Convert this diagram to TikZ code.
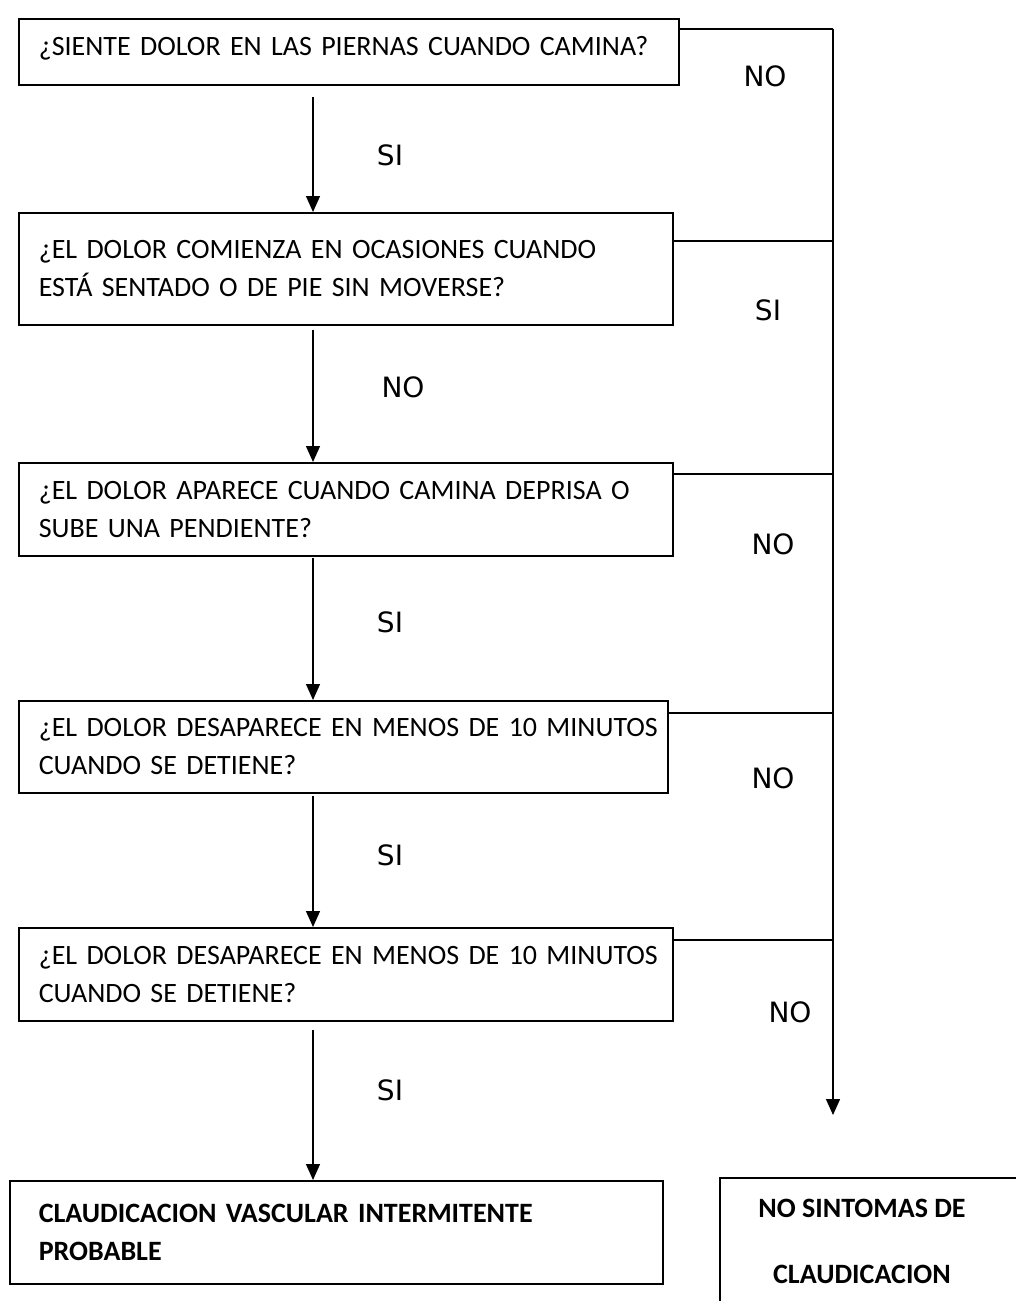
\documentclass[tikz,border=0pt]{standalone}
\usepackage{fontspec}
\setmainfont{Carlito}
\newfontfamily\answerfont{DejaVu Sans}
\usetikzlibrary{arrows.meta}
\tikzset{
    qbox/.style={draw, line width=1.6pt, anchor=north west, inner xsep=20pt,
                 inner ysep=0pt, font=\fontsize{28}{38}\selectfont},
    endbox/.style={qbox, font=\fontsize{28}{38}\selectfont\bfseries},
    flow/.style={-{Triangle[length=16pt, width=14pt]}, line width=1.4pt},
    link/.style={line width=1.4pt},
    answer/.style={font=\answerfont\fontsize{28}{32}\selectfont},
}

\begin{document}
\begin{tikzpicture}[x=1pt, y=1pt]
    \useasboundingbox (0,0) rectangle (1016,-1301);

    % questions
    \node[qbox, minimum width=660, minimum height=66, text width=620, text depth=12pt] (q1) at (18,-18)
        {\mbox{¿SIENTE DOLOR EN LAS PIERNAS CUANDO CAMINA?}};
    \node[qbox, minimum width=654, minimum height=112, text width=614] (q2) at (18,-212)
        {\mbox{¿EL DOLOR COMIENZA EN OCASIONES CUANDO}\\\mbox{ESTÁ SENTADO O DE PIE SIN MOVERSE?}};
    \node[qbox, minimum width=654, minimum height=93, text width=614] (q3) at (18,-462)
        {\mbox{¿EL DOLOR APARECE CUANDO CAMINA DEPRISA O}\\\mbox{SUBE UNA PENDIENTE?}};
    \node[qbox, minimum width=649, minimum height=92, text width=609] (q4) at (18,-700)
        {\mbox{¿EL DOLOR DESAPARECE EN MENOS DE 10 MINUTOS}\\\mbox{CUANDO SE DETIENE?}};
    \node[qbox, minimum width=654, minimum height=93, text width=614] (q5) at (18,-927)
        {\mbox{¿EL DOLOR DESAPARECE EN MENOS DE 10 MINUTOS}\\\mbox{CUANDO SE DETIENE?}};

    % results
    \node[endbox, minimum width=653, minimum height=103, text width=595, inner xsep=29pt] (res1) at (9,-1180)
        {\mbox{CLAUDICACION VASCULAR INTERMITENTE}\\\mbox{PROBABLE}};
    \node[endbox, draw=none, anchor=north, inner ysep=12pt] (res2) at (862,-1178)
        {\begin{tabular}{@{}c@{}}NO SINTOMAS DE\\[28pt]CLAUDICACION\end{tabular}};
    \draw[line width=1.6pt] (res2.north -| 720,0) rectangle (1040,-1330);

    % yes path
    \coordinate (s1) at (313,-97);
    \coordinate (s2) at (313,-330);
    \coordinate (s3) at (313,-558);
    \coordinate (s4) at (313,-796);
    \coordinate (s5) at (313,-1030);
    \draw[flow] (s1) -- (s1 |- q2.north);
    \draw[flow] (s2) -- (s2 |- q3.north);
    \draw[flow] (s3) -- (s3 |- q4.north);
    \draw[flow] (s4) -- (s4 |- q5.north);
    \draw[flow] (s5) -- (s5 |- res1.north);

    % exit rail
    \coordinate (railtop) at (833,-29);
    \coordinate (railend) at (833,-1115);
    \draw[link] (q1.east |- railtop) -- (railtop);
    \draw[flow] (railtop) -- (railend);
    \draw[link] (q2.east |- 0,-241) -- (railtop |- 0,-241);
    \draw[link] (q3.east |- 0,-474) -- (railtop |- 0,-474);
    \draw[link] (q4.east |- 0,-713) -- (railtop |- 0,-713);
    \draw[link] (q5.east |- 0,-940) -- (railtop |- 0,-940);

    % answers
    \node[answer] (a1) at (765,-76) {NO};
    \node[answer] (a2) at (390,-155) {SI};
    \node[answer] (a3) at (768,-310) {SI};
    \node[answer] (a4) at (403,-387) {NO};
    \node[answer] (a5) at (773,-544) {NO};
    \node[answer] (a6) at (390,-622) {SI};
    \node[answer] (a7) at (773,-778) {NO};
    \node[answer] (a8) at (390,-855) {SI};
    \node[answer] (a9) at (790,-1012) {NO};
    \node[answer] (a10) at (390,-1090) {SI};
\end{tikzpicture}
\end{document}
